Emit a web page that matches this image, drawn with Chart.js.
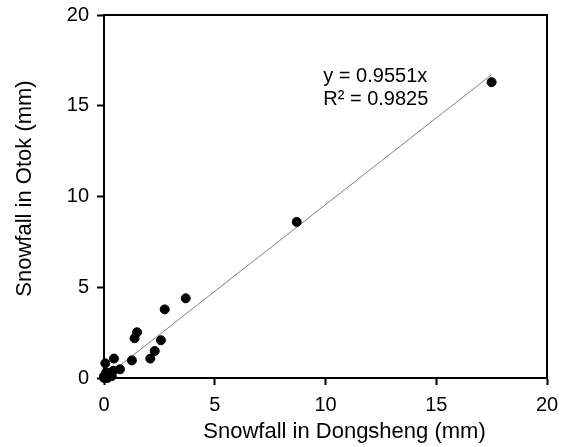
<!DOCTYPE html>
<html>
<head>
<meta charset="utf-8">
<script src="https://cdn.jsdelivr.net/npm/chart.js@4/dist/chart.umd.min.js"></script>
<style>
  html, body { margin: 0; padding: 0; background: #fff; }
  #wrap { width: 563px; height: 447px; }
</style>
</head>
<body>
<div id="wrap"><canvas id="scatterChart"></canvas></div>
<script>
// snowfall pairs, Dongsheng (x) vs Otok (y), mm
const dongsheng = [17.5, 8.7, 3.69, 2.74, 1.49, 1.38, 2.57, 2.29, 2.09, 1.26, 0.45, 0.06, 0.72, 0.42, 0.2, 0.1, 0.3, 0.0, 0.05, 0.15, 0.0, 0.35];
const otok      = [16.3, 8.6, 4.39, 3.78, 2.52, 2.19, 2.08, 1.49, 1.07, 0.97, 1.07, 0.81, 0.48, 0.40, 0.15, 0.3, 0.2, 0.0, 0.05, 0.0, 0.1, 0.1];

const trendSlope = 0.9551;
const trendR2 = 0.9825;
const trendRange = [0, 17.5];
const axisTicks = [0, 5, 10, 15, 20];
const xTitle = "Snowfall in Dongsheng (mm)";
const yTitle = "Snowfall in Otok (mm)";
const labelAt = { x: 9.9, y: 16.6 };

const font = "'Liberation Sans', Arial, sans-serif";

const points = dongsheng.map((x, i) => ({ x, y: otok[i] }));
const trend = trendRange.map(x => ({ x, y: trendSlope * x }));

// box round the plot, axis titles, equation text
const frameAndLabel = {
  id: "frameAndLabel",
  afterDraw(chart) {
    const { ctx, chartArea: a, scales } = chart;
    ctx.save();
    ctx.strokeStyle = "#000";
    ctx.lineWidth = 2;
    ctx.strokeRect(a.left, a.top, a.right - a.left, a.bottom - a.top);

    ctx.fillStyle = "#000";
    ctx.textBaseline = "middle";
    ctx.font = "20px " + font;
    const px = scales.x.getPixelForValue(labelAt.x);
    const py = scales.y.getPixelForValue(labelAt.y);
    ctx.textAlign = "left";
    ctx.fillText("y = " + trendSlope + "x", px, py);
    ctx.fillText("R² = " + trendR2, px, py + 23);

    ctx.font = "22px " + font;
    ctx.textAlign = "center";
    ctx.fillText(xTitle, (a.left + a.right) / 2 + 19, a.bottom + 54);
    ctx.translate(25, (a.top + a.bottom) / 2 - 8);
    ctx.rotate(-Math.PI / 2);
    ctx.fillText(yTitle, 0, 0);
    ctx.restore();
  }
};

const axisCommon = {
  type: "linear",
  min: 0,
  max: 20,
  afterBuildTicks: s => { s.ticks = axisTicks.map(v => ({ value: v })); },
  border: { display: true, color: "#000", width: 2 },
  grid: { display: true, drawOnChartArea: false, drawTicks: true, tickLength: 7, tickWidth: 2, tickColor: "#000" },
  ticks: { color: "#000", font: { family: font, size: 20 }, padding: 8 }
};

new Chart(document.getElementById("scatterChart"), {
  type: "scatter",
  data: {
    datasets: [
      {
        type: "line",
        data: trend,
        borderColor: "#7f7f7f",
        borderWidth: 1,
        pointRadius: 0,
        fill: false,
        order: 2
      },
      {
        data: points,
        backgroundColor: "#000",
        borderColor: "#000",
        pointRadius: 4.5,
        pointHoverRadius: 4.5,
        clip: false,
        order: 1
      }
    ]
  },
  options: {
    responsive: true,
    maintainAspectRatio: false,
    animation: false,
    layout: { padding: { top: 15, right: 16, left: 0, bottom: 0 } },
    plugins: { legend: { display: false }, tooltip: { enabled: false } },
    scales: {
      x: { ...axisCommon, afterFit: s => { s.height = 69; s.paddingLeft = 0; s.paddingRight = 0; } },
      y: { ...axisCommon, afterFit: s => { s.width = 104; s.paddingTop = 0; s.paddingBottom = 0; } }
    }
  },
  plugins: [frameAndLabel]
});
</script>
</body>
</html>
